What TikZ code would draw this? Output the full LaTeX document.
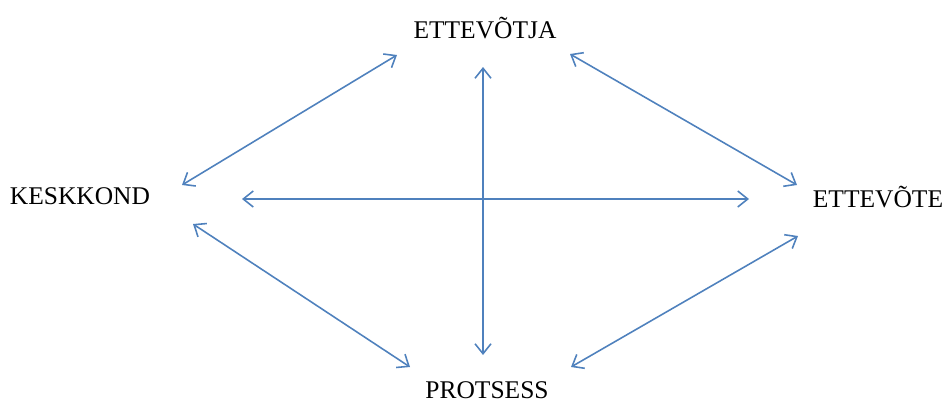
\documentclass[tikz,border=0pt]{standalone}
\usepackage{fontspec}
\setmainfont{Liberation Serif}
\usetikzlibrary{arrows.meta}
\definecolor{linkblue}{HTML}{4F81BD}

\begin{document}
\begin{tikzpicture}[x=0.02cm, y=-0.02cm,
    label/.style={inner sep=0pt, font=\fontsize{14.5}{17}\selectfont},
    link/.style={draw=linkblue, line width=0.9pt,
      {Straight Barb[length=2mm,width=3.2mm]}-{Straight Barb[length=2mm,width=3.2mm]}}
    ]
    \useasboundingbox (0,0) rectangle (946,403);
    % the four labels
    \node[label] (juht) at (485,28) {ETTEVÕTJA};
    \node[label] (keskkond) at (80,196) {KESKKOND};
    \node[label] (firma) at (878,197) {ETTEVÕTE};
    \node[label] (protsess) at (487,390) {PROTSESS};
    % arrow ends round each label
    \coordinate (j1) at (397,55);
    \coordinate (j2) at (483,67);
    \coordinate (j3) at (570,54);
    \coordinate (k1) at (182,185);
    \coordinate (k2) at (242,199);
    \coordinate (k3) at (193,224);
    \coordinate (f1) at (797,185);
    \coordinate (f2) at (749,199);
    \coordinate (f3) at (798,236);
    \coordinate (p1) at (410,367);
    \coordinate (p2) at (483,355);
    \coordinate (p3) at (571,367);
    % connectors
    \draw[link] (j1) -- (k1);
    \draw[link] (j3) -- (f1);
    \draw[link] (j2) -- (p2);
    \draw[link] (k2) -- (f2);
    \draw[link] (k3) -- (p1);
    \draw[link] (p3) -- (f3);
  \end{tikzpicture}
\end{document}
